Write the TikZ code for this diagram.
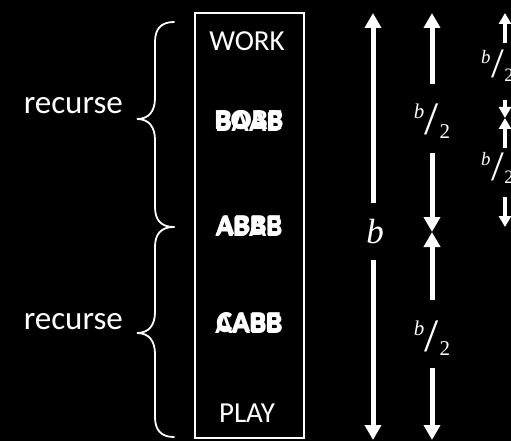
\documentclass[tikz,border=0pt]{standalone}
\usepackage{fontspec}
\setmainfont{Carlito}
\newfontfamily\serifm{Liberation Serif}
\usetikzlibrary{arrows.meta}
\newcommand\halfofb{{\serifm\fontsize{21}{21}\selectfont\raisebox{16pt}{\itshape b}\hspace{0.5pt}\scalebox{1.7}[1.55]{\fontsize{30}{30}\selectfont /}\hspace{0.5pt}\raisebox{-4pt}{2}}}
\begin{document}
\begin{tikzpicture}[x=1pt,y=-1pt,
  every node/.style={text=white,inner sep=0pt},
  bigarrow/.style={draw=white,line width=5pt,-{Triangle[width=16pt,length=15pt]}},
  smallarrow/.style={draw=white,line width=4pt,-{Triangle[width=12pt,length=11pt]}},
  bracepath/.style={draw=white,line width=1.8pt,line cap=round},
  boxtext/.style={font=\fontsize{29}{30}\selectfont,anchor=base},
  garble/.style={font=\fontsize{29}{30}\selectfont\bfseries,anchor=base},
  sidetext/.style={font=\fontsize{33}{34}\selectfont,anchor=mid east},
  halflabel/.style={anchor=base},
  quarterlabel/.style={anchor=base west,scale=0.9,transform shape}]
\fill[black] (0,0) rectangle (511,441);
\useasboundingbox (0,0) rectangle (511,441);

% box
\draw[white,line width=2pt] (195,13) rectangle (304,438);
\node[boxtext] (work) at (247,51) {WORK};
\node[garble] (g2a) at (249,130) {BOAB};
\node[garble] (g2b) at (249,131.5) {BAAB};
\node[garble] (g2c) at (249,129) {BOBE};
\node[garble] (g3a) at (249,235) {ABBB};
\node[garble] (g3b) at (249,236.5) {ABAB};
\node[garble] (g3c) at (249,234) {ABBE};
\node[garble] (g4a) at (249,332) {CABB};
\node[garble] (g4b) at (249,333.5) {AABB};
\node[garble] (g4c) at (249,331) {CABE};
\node[boxtext] (play) at (247,422) {PLAY};

% braces
\draw[bracepath] (174,22) .. controls (161,22) and (155,29) .. (155,42)
  -- (155,98) .. controls (155,111) and (149,119) .. (137,119)
  .. controls (149,119) and (155,127) .. (155,140)
  -- (155,207) .. controls (155,220) and (161,227) .. (174,227);
\draw[bracepath] (174,227) .. controls (161,227) and (155,234) .. (155,247)
  -- (155,312) .. controls (155,325) and (149,333) .. (137,333)
  .. controls (149,333) and (155,341) .. (155,354)
  -- (155,417) .. controls (155,430) and (161,437) .. (174,437);
\node[sidetext] (rec1) at (123,111) {recurse};
\node[sidetext] (rec2) at (123,327) {recurse};

% column 1
\node[anchor=base,font=\serifm\itshape\fontsize{35}{36}\selectfont] (b) at (375,243) {b};
\coordinate (c1a) at (373,203);
\coordinate (c1top) at (373,13);
\coordinate (c1b) at (373,260);
\coordinate (c1bot) at (373,440);
\draw[bigarrow] (c1a) -- (c1top);
\draw[bigarrow] (c1b) -- (c1bot);

% column 2
\node[halflabel] (h1) at (432,135) {\halfofb};
\node[halflabel] (h2) at (432,351) {\halfofb};
\coordinate (c2a) at (432,84);
\coordinate (c2top) at (432,13);
\coordinate (c2b) at (432,153);
\coordinate (c2mid) at (432,232);
\coordinate (c2c) at (432,300);
\coordinate (c2d) at (432,368);
\coordinate (c2bot) at (432,440);
\draw[bigarrow] (c2a) -- (c2top);
\draw[bigarrow] (c2b) -- (c2mid);
\draw[bigarrow] (c2c) -- (c2mid);
\draw[bigarrow] (c2d) -- (c2bot);

% column 3
\node[quarterlabel] (q1) at (481,78) {\halfofb};
\node[quarterlabel] (q2) at (481,180) {\halfofb};
\coordinate (c3a) at (505,43);
\coordinate (c3top) at (505,13);
\coordinate (c3b) at (505,100);
\coordinate (c3m1) at (505,118);
\coordinate (c3c) at (505,148);
\coordinate (c3d) at (505,197);
\coordinate (c3bot) at (505,227);
\draw[smallarrow] (c3a) -- (c3top);
\draw[smallarrow] (c3b) -- (c3m1);
\draw[smallarrow] (c3c) -- (c3m1);
\draw[smallarrow] (c3d) -- (c3bot);
\end{tikzpicture}
\end{document}
